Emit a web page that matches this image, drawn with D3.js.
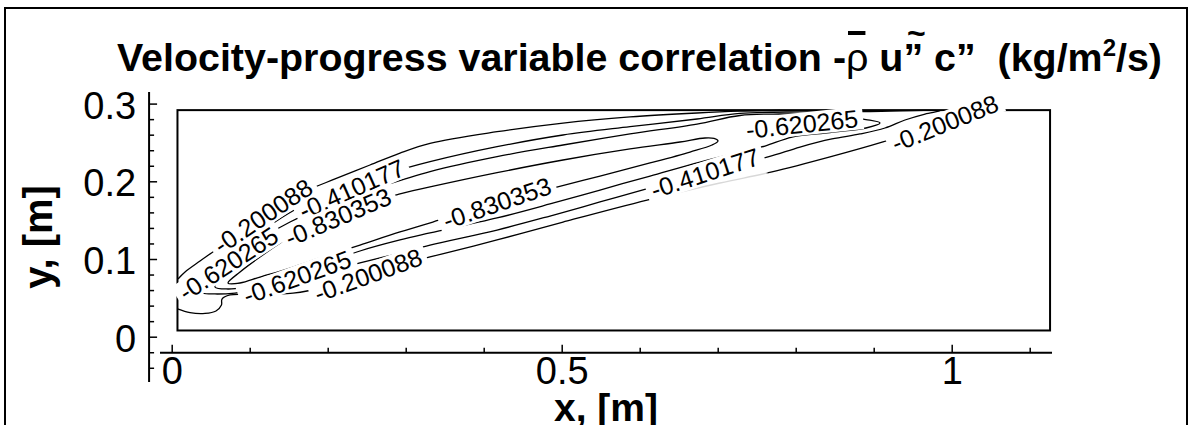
<!DOCTYPE html>
<html><head><meta charset="utf-8">
<script src="https://cdn.jsdelivr.net/npm/d3@7/dist/d3.min.js"></script>
<style>body{margin:0;background:#fff}svg{display:block}</style>
</head><body><svg id="chart" width="1193" height="425"></svg>
<script>
// ---------- data ----------
const titleText = "Velocity-progress variable correlation -";
const xLabel = "x, [m]";
const yLabel = "y, [m]";
const xMajorTicks = [0, 0.5, 1];
const xMajorLabels = ["0", "0.5", "1"];
const xMinorTicks = [0.1, 0.2, 0.3, 0.4, 0.6, 0.7, 0.8, 0.9, 1.1];
const yMajorTicks = [0, 0.1, 0.2, 0.3];
const yMajorLabels = ["0", "0.1", "0.2", "0.3"];
const yMinorTicks = [-0.04, -0.02, 0.02, 0.04, 0.06, 0.08, 0.12, 0.14, 0.16, 0.18, 0.22, 0.24, 0.26, 0.28];
const xAxisExtent = [-0.015, 1.1286];
const yAxisExtent = [-0.0583, 0.315];
const xAxisAtY = -0.0206;
const yAxisAtX = -0.029;
const domainX = [0.0074, 1.1261];
const domainY = [0.0080, 0.2916];

const levels = [-0.200088, -0.410177, -0.620265, -0.830353];

// contour -0.830353 (closed)
const c083 = [[0.0722,0.0691],[0.0876,0.0833],[0.1132,0.1026],[0.1453,0.1245],[0.1773,0.1425],[0.2132,0.1592],[0.2542,0.1734],[0.2927,0.1837],[0.3312,0.1927],[0.4171,0.2111],[0.5017,0.2274],[0.5876,0.2416],[0.6517,0.2506],[0.6837,0.2557],[0.6953,0.2551],[0.7004,0.2519],[0.6927,0.2467],[0.6645,0.2377],[0.6133,0.2236],[0.5491,0.2068],[0.4850,0.1901],[0.4171,0.1721],[0.3478,0.1515],[0.2927,0.1348],[0.2414,0.1180],[0.1901,0.1013],[0.1517,0.0884],[0.1132,0.0768],[0.0876,0.0691]];
// contour -0.620265 (closed)
const c062 = [[0.0555,0.0640],[0.0594,0.0755],[0.0722,0.0961],[0.0940,0.1129],[0.1196,0.1296],[0.1517,0.1476],[0.1901,0.1656],[0.2222,0.1772],[0.2670,0.1927],[0.3312,0.2124],[0.4171,0.2317],[0.5017,0.2467],[0.5876,0.2609],[0.6735,0.2737],[0.7285,0.2847],[0.7799,0.2866],[0.8440,0.2853],[0.8901,0.2795],[0.9081,0.2750],[0.8901,0.2686],[0.8440,0.2628],[0.7953,0.2570],[0.7606,0.2454],[0.7285,0.2377],[0.6773,0.2248],[0.6133,0.2068],[0.5491,0.1888],[0.4850,0.1708],[0.4171,0.1528],[0.3312,0.1335],[0.2927,0.1245],[0.2414,0.1103],[0.2029,0.0961],[0.1606,0.0820],[0.1260,0.0717],[0.0940,0.0640],[0.0722,0.0614]];
// contour -0.410177 (closed)
const c041 = [[0.0363,0.0601],[0.0427,0.0704],[0.0555,0.0858],[0.0747,0.1039],[0.1004,0.1245],[0.1324,0.1476],[0.1645,0.1669],[0.1965,0.1811],[0.2312,0.1927],[0.2799,0.2107],[0.3312,0.2252],[0.4171,0.2445],[0.5017,0.2596],[0.5876,0.2703],[0.6735,0.2802],[0.7285,0.2873],[0.8055,0.2894],[0.8953,0.2898],[0.9850,0.2907],[0.9658,0.2866],[0.9401,0.2789],[0.9145,0.2686],[0.8824,0.2609],[0.8465,0.2545],[0.8055,0.2441],[0.7645,0.2313],[0.6837,0.2107],[0.6133,0.1914],[0.5491,0.1734],[0.4850,0.1553],[0.4171,0.1373],[0.3312,0.1180],[0.2927,0.1077],[0.2414,0.0949],[0.1901,0.0807],[0.1517,0.0704],[0.1132,0.0614],[0.0812,0.0562],[0.0555,0.0550],[0.0401,0.0562]];
// contour -0.200088 (open pieces, ending on the domain boundary)
const c020upper = [[0.0081,0.0743],[0.0171,0.0833],[0.0363,0.0974],[0.0581,0.1129],[0.0876,0.1360],[0.1158,0.1579],[0.1453,0.1759],[0.1773,0.1901],[0.2094,0.2030],[0.2542,0.2210],[0.2927,0.2364],[0.3312,0.2489],[0.4171,0.2638],[0.5017,0.2750],[0.5876,0.2828],[0.6735,0.2879],[0.7285,0.2902],[0.7799,0.2912]];
const c020lower = [[0.0074,0.0357],[0.0235,0.0309],[0.0427,0.0299],[0.0568,0.0331],[0.0638,0.0408],[0.0645,0.0485],[0.0747,0.0537],[0.1004,0.0543],[0.1324,0.0550],[0.1555,0.0562],[0.1735,0.0588],[0.2094,0.0678],[0.2517,0.0807],[0.2927,0.0923],[0.3312,0.1026],[0.4171,0.1245],[0.5017,0.1476],[0.6094,0.1759],[0.7029,0.1978],[0.7696,0.2120],[0.8440,0.2313],[0.9119,0.2506],[0.9594,0.2660],[0.9978,0.2789],[1.0299,0.2879],[1.0555,0.2911]];
// x-range (m) where the -0.200088 lower line is drawn faint in the reference
const faintRange = [0.612, 0.765];

// contour labels: text, centre (m), angle (deg) — in drawing order
const labelText  = ["-0.620265","-0.620265","-0.410177","-0.200088","-0.830353","-0.200088","-0.830353","-0.410177","-0.620265","-0.200088"];
const labelX     = [0.0725, 0.1606, 0.2306, 0.1170, 0.2132, 0.2517, 0.4171, 0.6837, 0.8081, 0.9913];
const labelY     = [0.0940, 0.0768, 0.1901, 0.1555, 0.1541, 0.0794, 0.1721, 0.2107, 0.2737, 0.2750];
const labelAngle = [-33, -20, -24, -34, -23, -20, -19, -18, -6, -22];

// ---------- drawing ----------
const svg = d3.select("#chart");
svg.append("rect").attr("width",1193).attr("height",425).attr("fill","#fff");
const FONT = "'Liberation Sans', Arial, Helvetica, sans-serif";

const x = d3.scaleLinear().domain([0, 1]).range([171.7, 951.7]);
const y = d3.scaleLinear().domain([0, 0.3]).range([336.7, 103.6]);

// outer frame
svg.append("rect").attr("x",5).attr("y",8).attr("width",1182).attr("height",600)
  .attr("fill","none").attr("stroke","#000").attr("stroke-width",2);

// title
const title = svg.append("text").attr("x",117).attr("y",71)
  .attr("font-family",FONT).attr("font-weight","bold").attr("font-size",39.4)
  .style("white-space","pre").attr("fill","#000");
title.append("tspan").text(titleText);
title.append("tspan").attr("font-weight","normal").text("\u03C1");
title.append("tspan").text(" u");
title.append("tspan").text("\u201D");
title.append("tspan").text(" c\u201D  (kg/m");
title.append("tspan").attr("font-size",24).attr("dy",-15).text("2");
title.append("tspan").attr("dy",15).text("/s)");
const tn = title.node();
const rhoIdx = titleText.length;
const rhoExt = tn.getExtentOfChar(rhoIdx);
svg.append("rect").attr("x",rhoExt.x+2).attr("y",31).attr("width",Math.max(4,rhoExt.width-5)).attr("height",4).attr("fill","#000");
const qIdx = rhoIdx + 3;
const qExt = tn.getExtentOfChar(qIdx);
svg.append("text").attr("x",qExt.x+qExt.width*0.65).attr("y",44).attr("text-anchor","middle")
  .attr("font-family",FONT).attr("font-weight","bold").attr("font-size",32).text("~");

// axes
const xAxisY = y(xAxisAtY), yAxisX = x(yAxisAtX);
const gx = svg.append("g").attr("transform",`translate(0,${xAxisY})`);
gx.append("g").call(d3.axisBottom(x).tickValues(xMinorTicks).tickSize(-5).tickFormat(""));
gx.append("g").call(d3.axisBottom(x).tickValues(xMajorTicks).tickSize(-8).tickPadding(4).tickFormat((d,i)=>xMajorLabels[i]));
gx.selectAll(".domain").remove();
gx.selectAll("line").attr("stroke","#000").attr("stroke-width",1.5);
gx.selectAll("text").attr("font-family",FONT).attr("font-size",38).attr("fill","#000");
gx.append("line").attr("x1",x(xAxisExtent[0])).attr("x2",x(xAxisExtent[1])).attr("stroke","#000").attr("stroke-width",2);

const gy = svg.append("g").attr("transform",`translate(${yAxisX},0)`);
gy.append("g").call(d3.axisLeft(y).tickValues(yMinorTicks).tickSize(-5).tickFormat(""));
gy.append("g").call(d3.axisLeft(y).tickValues(yMajorTicks).tickSize(-8).tickPadding(13).tickFormat((d,i)=>yMajorLabels[i]));
gy.selectAll(".domain").remove();
gy.selectAll("line").attr("stroke","#000").attr("stroke-width",1.5);
gy.selectAll("text").attr("font-family",FONT).attr("font-size",38).attr("fill","#000").attr("dy","0.38em");
gy.append("line").attr("y1",y(yAxisExtent[0])).attr("y2",y(yAxisExtent[1])).attr("stroke","#000").attr("stroke-width",2);

// axis titles
svg.append("text").attr("x",(x(xAxisExtent[0])+x(xAxisExtent[1]))/2).attr("y",421).attr("text-anchor","middle")
  .attr("font-family",FONT).attr("font-weight","bold").attr("font-size",39).text(xLabel);
const yMid = (y(yAxisExtent[0])+y(yAxisExtent[1]))/2;
svg.append("text").attr("transform",`translate(52,${yMid}) rotate(-90)`).attr("text-anchor","middle")
  .attr("font-family",FONT).attr("font-weight","bold").attr("font-size",40).text(yLabel);

// domain boundary
svg.append("rect").attr("x",x(domainX[0])).attr("y",y(domainY[1]))
  .attr("width",x(domainX[1])-x(domainX[0])).attr("height",y(domainY[0])-y(domainY[1]))
  .attr("fill","none").attr("stroke","#000").attr("stroke-width",2);

// faint stretch gradient
const defs = svg.append("defs");
const grad = defs.append("linearGradient").attr("id","faint").attr("gradientUnits","userSpaceOnUse")
  .attr("x1",0).attr("x2",1193).attr("y1",0).attr("y2",0);
const f0 = x(faintRange[0])/1193, f1 = x(faintRange[1])/1193;
[[0,"#000"],[f0,"#000"],[f0+0.002,"#d8d8d8"],[f1-0.002,"#d8d8d8"],[f1,"#000"],[1,"#000"]]
  .forEach(s => grad.append("stop").attr("offset",s[0]).attr("stop-color",s[1]));

// contour lines
const closedLine = d3.line().x(d=>x(d[0])).y(d=>y(d[1])).curve(d3.curveCatmullRomClosed.alpha(0.5));
const openLine = d3.line().x(d=>x(d[0])).y(d=>y(d[1])).curve(d3.curveCatmullRom.alpha(0.5));
const cg = svg.append("g").attr("fill","none").attr("stroke","#000").attr("stroke-width",1.3);
[c083, c062, c041].forEach(c => cg.append("path").attr("d", closedLine(c)));
cg.append("path").attr("d", openLine(c020upper));
cg.append("path").attr("d", openLine(c020lower)).attr("stroke","url(#faint)");

// contour labels with white boxes
const lg = svg.append("g");
labelText.forEach((t,i) => {
  const g = lg.append("g").attr("transform",`translate(${x(labelX[i])},${y(labelY[i])}) rotate(${labelAngle[i]})`);
  const r = g.append("rect").attr("fill","#fff");
  const tx = g.append("text").attr("text-anchor","middle").attr("dy","0.36em")
    .attr("font-family",FONT).attr("font-size",25).attr("fill","#000").text(t);
  const w = tx.node().getComputedTextLength();
  r.attr("x",-w/2-5).attr("y",-11.5).attr("width",w+10).attr("height",23);
});
</script></body></html>
